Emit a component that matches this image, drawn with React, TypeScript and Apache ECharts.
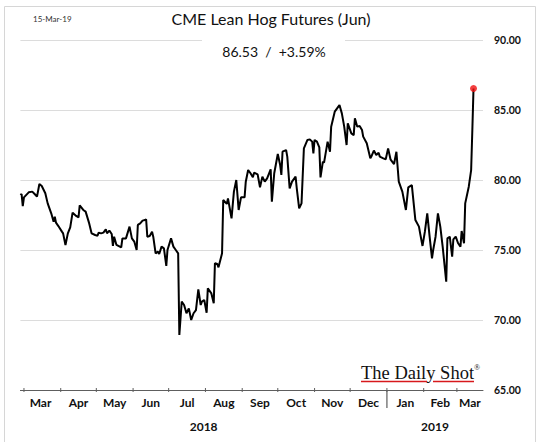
import React, { useEffect, useRef } from "react";
import * as echarts from "echarts";

const titleText = "CME Lean Hog Futures (Jun)";
const subtitleText = "86.53  /  +3.59%";
const dateStamp = "15-Mar-19";
const logoText = "The Daily Shot";

const axisMin = "2018-02-26";
const axisMax = "2019-03-23";
const yMin = 65;
const yMax = 90;
const yStep = 5;

const dates = [
  "2018-02-26", "2018-02-27", "2018-02-28", "2018-03-01", "2018-03-05", "2018-03-08", "2018-03-10", "2018-03-12",
  "2018-03-14", "2018-03-16", "2018-03-19", "2018-03-21", "2018-03-24", "2018-03-26", "2018-03-27", "2018-03-28",
  "2018-03-30", "2018-04-02", "2018-04-03", "2018-04-05", "2018-04-07", "2018-04-09", "2018-04-11", "2018-04-14",
  "2018-04-16", "2018-04-17", "2018-04-20", "2018-04-22", "2018-04-25", "2018-04-27", "2018-04-30", "2018-05-02",
  "2018-05-03", "2018-05-05", "2018-05-07", "2018-05-09", "2018-05-10", "2018-05-12", "2018-05-14", "2018-05-15",
  "2018-05-16", "2018-05-18", "2018-05-22", "2018-05-23", "2018-05-26", "2018-05-29", "2018-05-31", "2018-06-02",
  "2018-06-04", "2018-06-05", "2018-06-07", "2018-06-09", "2018-06-11", "2018-06-12", "2018-06-13", "2018-06-15",
  "2018-06-17", "2018-06-18", "2018-06-20", "2018-06-22", "2018-06-23", "2018-06-25", "2018-06-27", "2018-06-29",
  "2018-06-30", "2018-07-03", "2018-07-05", "2018-07-07", "2018-07-09", "2018-07-10", "2018-07-12", "2018-07-14",
  "2018-07-16", "2018-07-18", "2018-07-20", "2018-07-22", "2018-07-24", "2018-07-26", "2018-07-28", "2018-07-29",
  "2018-07-31", "2018-08-02", "2018-08-03", "2018-08-06", "2018-08-08", "2018-08-09", "2018-08-11", "2018-08-12",
  "2018-08-15", "2018-08-16", "2018-08-19", "2018-08-20", "2018-08-23", "2018-08-25", "2018-08-27", "2018-08-29",
  "2018-08-31", "2018-09-03", "2018-09-04", "2018-09-06", "2018-09-08", "2018-09-10", "2018-09-11", "2018-09-14",
  "2018-09-16", "2018-09-18", "2018-09-20", "2018-09-22", "2018-09-25", "2018-09-26", "2018-09-28", "2018-10-01",
  "2018-10-03", "2018-10-04", "2018-10-05", "2018-10-08", "2018-10-09", "2018-10-11", "2018-10-13", "2018-10-16",
  "2018-10-17", "2018-10-19", "2018-10-21", "2018-10-23", "2018-10-26", "2018-10-28", "2018-10-30", "2018-10-31",
  "2018-11-01", "2018-11-03", "2018-11-05", "2018-11-06", "2018-11-08", "2018-11-09", "2018-11-12", "2018-11-14",
  "2018-11-15", "2018-11-18", "2018-11-20", "2018-11-22", "2018-11-24", "2018-11-26", "2018-11-28", "2018-11-29",
  "2018-12-02", "2018-12-04", "2018-12-05", "2018-12-07", "2018-12-09", "2018-12-11", "2018-12-12", "2018-12-15",
  "2018-12-18", "2018-12-19", "2018-12-21", "2018-12-23", "2018-12-25", "2018-12-26", "2018-12-29", "2018-12-31",
  "2019-01-02", "2019-01-04", "2019-01-07", "2019-01-09", "2019-01-11", "2019-01-14", "2019-01-17", "2019-01-19",
  "2019-01-22", "2019-01-25", "2019-01-28", "2019-01-29", "2019-01-31", "2019-02-02", "2019-02-04", "2019-02-06",
  "2019-02-08", "2019-02-09", "2019-02-11", "2019-02-13", "2019-02-15", "2019-02-17", "2019-02-20", "2019-02-21",
  "2019-02-23", "2019-02-25", "2019-02-26", "2019-02-28", "2019-03-02", "2019-03-04", "2019-03-05", "2019-03-07",
  "2019-03-08", "2019-03-11", "2019-03-13", "2019-03-14", "2019-03-15",
];

const prices = [
  78.93, 79.0, 78.14, 78.76, 79.12, 79.17, 79.0, 78.81,
  79.71, 79.57, 79.05, 78.33, 77.62, 77.02, 77.38, 76.95,
  76.71, 76.31, 76.19, 75.36, 76.19, 76.62, 77.67, 77.43,
  77.33, 78.19, 77.86, 77.74, 76.9, 76.19, 76.07, 76.02,
  76.24, 76.19, 76.24, 76.48, 76.19, 76.38, 76.14, 75.29,
  75.95, 75.36, 75.19, 75.83, 75.83, 76.67, 75.83, 75.6,
  75.0, 76.79, 76.9, 77.1, 77.14, 77.19, 75.95, 76.0,
  76.31, 75.95, 74.76, 74.88, 74.71, 75.24, 75.12, 73.86,
  75.0, 75.83, 75.24, 75.0, 74.76, 68.93, 71.31, 71.07,
  70.48, 70.83, 70.0, 70.48, 70.71, 72.19, 71.07, 71.31,
  71.43, 70.52, 72.26, 71.9, 71.19, 74.05, 74.0, 73.76,
  74.76, 78.57, 78.29, 78.69, 77.26, 79.17, 80.0, 77.86,
  78.76, 78.76, 79.88, 80.71, 80.48, 80.19, 80.52, 80.4,
  79.48, 80.24, 79.88, 80.12, 80.76, 78.45, 80.48, 81.86,
  81.07, 80.36, 82.02, 82.14, 81.67, 79.4, 79.88, 80.24,
  79.4, 77.98, 78.33, 82.26, 82.86, 82.9, 82.74, 81.9,
  82.86, 82.74, 82.33, 80.19, 81.31, 81.24, 82.74, 82.02,
  83.81, 84.88, 85.12, 85.36, 84.76, 83.81, 82.5, 84.05,
  83.33, 83.21, 84.41, 83.81, 83.86, 83.57, 83.1, 82.62,
  81.55, 81.7, 82.1, 81.79, 81.95, 81.67, 81.55, 81.48,
  82.26, 81.48, 81.14, 82.02, 79.88, 79.17, 77.86, 79.48,
  79.64, 77.14, 76.67, 76.19, 75.29, 76.31, 77.62, 75.95,
  74.4, 75.0, 75.95, 77.62, 76.67, 75.24, 72.74, 75.83,
  75.95, 74.52, 75.76, 75.95, 75.48, 75.24, 76.36, 75.48,
  78.33, 79.52, 80.71, 83.53, 86.53,
];

const monthTicks = [
  "2018-03-01", "2018-04-01", "2018-05-01", "2018-06-01", "2018-07-01", "2018-08-01", "2018-09-01",
  "2018-10-01", "2018-11-01", "2018-12-01", "2019-01-01", "2019-02-01", "2019-03-01",
];
const monthLabels = ["Mar", "Apr", "May", "Jun", "Jul", "Aug", "Sep", "Oct", "Nov", "Dec", "Jan", "Feb", "Mar"];
const yearStarts = [axisMin, "2019-01-01"];
const yearEnds = ["2019-01-01", axisMax];
const yearLabels = ["2018", "2019"];
const yearBreaks = ["2019-01-01"];

const FONT = "Lato, 'Noto Sans', sans-serif";
const TEXT = "#111111";
const AXIS = "#5e5e5e";

export default function App() {
  const ref = useRef<HTMLDivElement>(null);

  useEffect(() => {
    document.body.style.margin = "0";
    if (!ref.current) return;
    const chart = echarts.init(ref.current, null, { renderer: "svg" });
    const t = (s: string) => echarts.time.parse(s).getTime();

    const monthStarts = [axisMin, ...monthTicks.slice(1)];
    const monthEnds = [...monthTicks.slice(1), axisMax];

    const lineData = dates.map((d, i) => [t(d), prices[i]]);
    const last = lineData[lineData.length - 1];

    const option: any = {
      animation: false,
      backgroundColor: "#ffffff",
      grid: { left: 20.4, right: 57, top: 40, bottom: 52, containLabel: false },
      xAxis: {
        type: "time",
        min: t(axisMin),
        max: t(axisMax),
        axisLine: { show: true, lineStyle: { color: AXIS, width: 1 } },
        axisTick: { show: false },
        axisLabel: { show: false },
        splitLine: { show: false },
      },
      yAxis: {
        type: "value",
        position: "right",
        min: yMin,
        max: yMax,
        interval: yStep,
        axisLine: { show: false },
        axisTick: { show: false },
        axisLabel: {
          margin: 11,
          color: TEXT,
          fontFamily: FONT,
          fontWeight: "bold",
          fontSize: 10.5,
          formatter: (v: number) => v.toFixed(2),
        },
        splitLine: { show: true, showMinLine: false, lineStyle: { color: "#dcdcdc", width: 1 } },
      },
      series: [
        {
          type: "line",
          data: lineData,
          showSymbol: false,
          lineStyle: { color: "#000000", width: 2 },
          z: 3,
        },
        {
          type: "scatter",
          data: [last],
          symbolSize: 7,
          itemStyle: { color: "#f01010" },
          z: 4,
        },
        {
          type: "custom",
          clip: false,
          silent: true,
          encode: { x: 0, y: 1 },
          data: monthTicks.map((d) => [t(d), yMin]),
          renderItem: (_p: any, api: any) => {
            const p = api.coord([api.value(0), api.value(1)]);
            return {
              type: "line",
              shape: { x1: p[0], y1: p[1] - 2, x2: p[0], y2: p[1] + 2 },
              style: { stroke: AXIS, lineWidth: 1 },
            };
          },
        },
        {
          type: "custom",
          clip: false,
          silent: true,
          encode: { x: 0, y: 1 },
          data: yearBreaks.map((d) => [t(d), yMin]),
          renderItem: (_p: any, api: any) => {
            const p = api.coord([api.value(0), api.value(1)]);
            return {
              type: "line",
              shape: { x1: p[0], y1: p[1], x2: p[0], y2: p[1] + 18 },
              style: { stroke: AXIS, lineWidth: 1.2 },
            };
          },
        },
        {
          type: "custom",
          clip: false,
          silent: true,
          encode: { x: [0, 1], y: 2 },
          data: monthStarts.map((s, i) => [t(s), t(monthEnds[i]), yMin]),
          renderItem: (params: any, api: any) => {
            const a = api.coord([api.value(0), api.value(2)]);
            const b = api.coord([api.value(1), api.value(2)]);
            return {
              type: "text",
              x: (a[0] + b[0]) / 2,
              y: a[1] + 12.5,
              style: {
                text: monthLabels[params.dataIndex],
                align: "center",
                verticalAlign: "middle",
                fontFamily: FONT,
                fontWeight: "bold",
                fontSize: 12,
                fill: TEXT,
              },
            };
          },
        },
        {
          type: "custom",
          clip: false,
          silent: true,
          encode: { x: [0, 1], y: 2 },
          data: yearStarts.map((s, i) => [t(s), t(yearEnds[i]), yMin]),
          renderItem: (params: any, api: any) => {
            const a = api.coord([api.value(0), api.value(2)]);
            const b = api.coord([api.value(1), api.value(2)]);
            return {
              type: "text",
              x: (a[0] + b[0]) / 2,
              y: a[1] + 36.5,
              style: {
                text: yearLabels[params.dataIndex],
                align: "center",
                verticalAlign: "middle",
                fontFamily: FONT,
                fontWeight: "bold",
                fontSize: 12,
                fill: TEXT,
              },
            };
          },
        },
      ],
      graphic: [
        {
          type: "rect",
          silent: true,
          z: 0,
          shape: { x: 4.5, y: 6.5, width: 531, height: 440 },
          style: { fill: "none", stroke: "#d6d6d6", lineWidth: 1 },
        },
        {
          type: "text",
          silent: true,
          x: 33,
          y: 19,
          style: { text: dateStamp, fontFamily: FONT, fontSize: 8, fill: "#333", verticalAlign: "middle" },
        },
        {
          type: "text",
          silent: true,
          x: 271,
          y: 18,
          style: { text: titleText, fontFamily: FONT, fontSize: 16, fill: TEXT, align: "center", verticalAlign: "middle" },
        },
        {
          type: "rect",
          silent: true,
          z: 10,
          shape: { x: 202, y: 34, width: 143, height: 28 },
          style: { fill: "#ffffff" },
        },
        {
          type: "text",
          silent: true,
          z: 11,
          x: 274,
          y: 51,
          style: { text: subtitleText, fontFamily: FONT, fontSize: 14, fill: TEXT, align: "center", verticalAlign: "middle" },
        },
        {
          type: "text",
          silent: true,
          z: 11,
          x: 361,
          y: 373,
          style: {
            text: logoText,
            fontFamily: "'Liberation Serif', 'DejaVu Serif', serif",
            fontSize: 18.5,
            fill: "#111111",
            verticalAlign: "middle",
          },
        },
        {
          type: "text",
          silent: true,
          z: 11,
          x: 474,
          y: 367,
          style: { text: "®", fontFamily: "'Liberation Serif', serif", fontSize: 8, fill: "#111111", verticalAlign: "middle" },
        },
        {
          type: "line",
          silent: true,
          z: 11,
          shape: { x1: 361, y1: 381.5, x2: 427, y2: 381.5 },
          style: { stroke: "#d7191c", lineWidth: 1.3 },
        },
        {
          type: "line",
          silent: true,
          z: 11,
          shape: { x1: 433, y1: 381.5, x2: 474, y2: 381.5 },
          style: { stroke: "#d7191c", lineWidth: 1.3 },
        },
      ],
    };

    chart.setOption(option);
    return () => chart.dispose();
  }, []);

  return <div ref={ref} style={{ width: 540, height: 442 }} />;
}
